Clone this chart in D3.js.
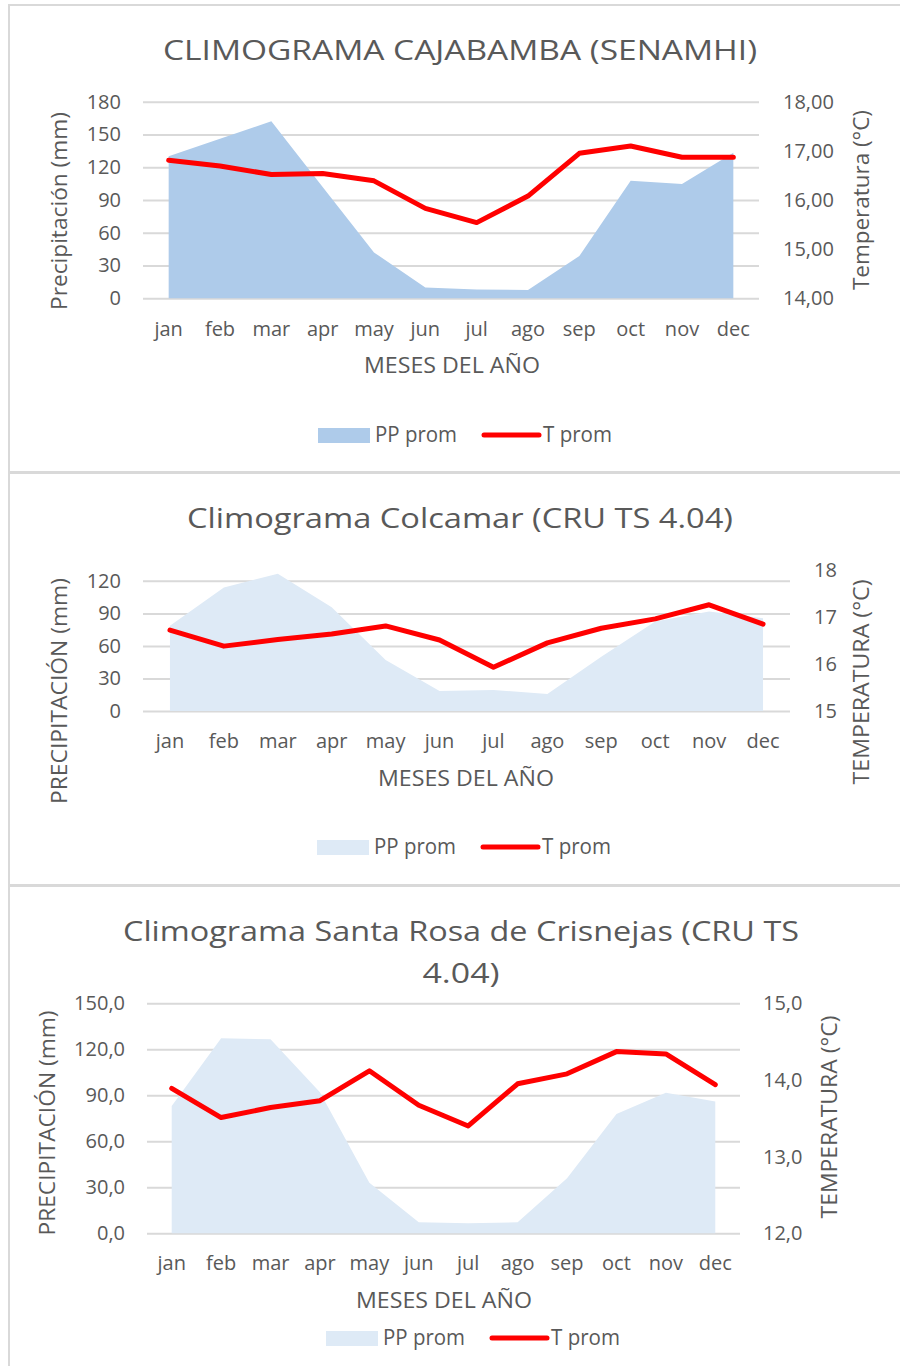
<!DOCTYPE html>
<html>
<head>
<meta charset="utf-8">
<script src="https://cdn.jsdelivr.net/npm/d3@7"></script>
<style>
  body { margin: 0; background: #fff; }
  svg text { font-family: "Open Sans", Lato, sans-serif; fill: #595959; }
</style>
</head>
<body>
<div id="graf"></div>
<script>
// ===== datos =====
const meses = ["jan", "feb", "mar", "apr", "may", "jun", "jul", "ago", "sep", "oct", "nov", "dec"];

// Cajabamba (SENAMHI)
const ppCajabamba = [130, 146, 162, 102, 42, 10, 8, 7.6, 38.7, 107.7, 104.6, 133.3];
const tCajabamba = [16.81, 16.69, 16.52, 16.54, 16.39, 15.83, 15.54, 16.08, 16.95, 17.10, 16.87, 16.87];
const ticksPPCajabamba = [0, 30, 60, 90, 120, 150, 180];
const ticksTCajabamba = [14, 15, 16, 17, 18];

// Colcamar (CRU TS 4.04)
const ppColcamar = [78.5, 113.8, 126.5, 95.7, 47, 18.5, 19.4, 15.7, 50, 82.5, 91.7, 85.5];
const tColcamar = [16.72, 16.38, 16.52, 16.64, 16.81, 16.51, 15.93, 16.45, 16.76, 16.96, 17.26, 16.85];
const ticksPPColcamar = [0, 30, 60, 90, 120];
const ticksTColcamar = [15, 16, 17, 18];

// Santa Rosa de Crisnejas (CRU TS 4.04)
const ppSantaRosa = [83, 127.2, 126.5, 92, 33, 7.2, 6.5, 7.2, 35.9, 77.8, 91.7, 85.9];
const tSantaRosa = [13.89, 13.51, 13.64, 13.73, 14.12, 13.67, 13.40, 13.95, 14.08, 14.37, 14.34, 13.94];
const ticksPPSantaRosa = [0, 30, 60, 90, 120, 150];
const ticksTSantaRosa = [12, 13, 14, 15];

const coma = d3.formatLocale({ decimal: ",", thousands: ".", grouping: [3], currency: ["", ""] });

const svg = d3.select("#graf").append("svg")
  .attr("width", 900)
  .attr("height", 1366);

// marcos de cada gráfico
[[5, 467], [473, 412], [886, 490]].forEach(([y, h]) => {
  svg.append("rect")
    .attr("x", 9).attr("y", y).attr("width", 900).attr("height", h)
    .attr("fill", "none").attr("stroke", "#d9d9d9").attr("stroke-width", 2);
});

// texto estirado al ancho que tiene en la imagen
function texto(g, txt, size, largo) {
  return g.append("text")
    .attr("text-anchor", "middle")
    .style("font-size", size + "px")
    .attr("textLength", largo)
    .attr("lengthAdjust", "spacingAndGlyphs")
    .text(txt);
}

function climograma(o) {
  const g = svg.append("g");

  const x = d3.scaleBand().domain(meses).range([o.x0, o.x1]);
  const cx = (d) => x(d) + x.bandwidth() / 2;
  const yPP = d3.scaleLinear().domain(o.domPP).range([o.yBase, o.yTop]);
  const yT = d3.scaleLinear().domain(o.domT).range([o.yBase, o.yTop]);

  // eje izquierdo (con líneas de cuadrícula)
  const ejeIzq = g.append("g")
    .attr("transform", `translate(${o.x0},0)`)
    .call(d3.axisLeft(yPP).tickValues(o.ticksPP).tickSize(-(o.x1 - o.x0)).tickPadding(22)
      .tickFormat(coma.format(o.fmtPP)));
  ejeIzq.select(".domain").remove();
  ejeIzq.selectAll("line").attr("stroke", "#d9d9d9").attr("stroke-width", 2);
  ejeIzq.selectAll("text").style("font-size", "20px").attr("fill", "#595959");

  // eje derecho
  const ejeDer = g.append("g")
    .attr("transform", `translate(${o.x1},0)`)
    .call(d3.axisRight(yT).tickValues(o.ticksT).tickSize(0).tickPadding(o.padDer)
      .tickFormat(coma.format(o.fmtT)));
  ejeDer.select(".domain").remove();
  ejeDer.selectAll("text").style("font-size", "20px").attr("fill", "#595959");

  // eje x
  const ejeX = g.append("g")
    .attr("transform", `translate(0,${o.yBase})`)
    .call(d3.axisBottom(x).tickSize(0));
  ejeX.select(".domain").remove();
  ejeX.selectAll("text").attr("y", o.xLabY).attr("dy", null)
    .style("font-size", "20px").attr("fill", "#595959");

  // área de precipitación
  g.append("path")
    .datum(o.pp)
    .attr("fill", o.colorPP)
    .attr("d", d3.area()
      .x((d, i) => cx(meses[i]))
      .y0(yPP(0))
      .y1((d) => yPP(d)));

  // línea de temperatura
  g.append("path")
    .datum(o.t)
    .attr("fill", "none")
    .attr("stroke", "#ff0000")
    .attr("stroke-width", 5)
    .attr("stroke-linejoin", "round")
    .attr("stroke-linecap", "round")
    .attr("d", d3.line()
      .x((d, i) => cx(meses[i]))
      .y((d) => yT(d)));

  // título (una o dos líneas)
  o.titulo.forEach((linea, i) => {
    texto(g, linea, 28, o.titLargo[i])
      .attr("x", o.titX)
      .attr("y", o.titY + i * 42);
  });

  // títulos de ejes
  texto(g, o.tituloPP, 21, o.largoIzq)
    .attr("transform", `translate(${o.labIzq[0]},${o.labIzq[1]}) rotate(-90)`)
    .attr("dy", "0.35em");

  texto(g, o.tituloT, 21, o.largoDer)
    .attr("transform", `translate(${o.labDer[0]},${o.labDer[1]}) rotate(-90)`)
    .attr("dy", "0.35em");

  texto(g, "MESES DEL AÑO", 21, 176)
    .attr("x", o.mesesX)
    .attr("y", o.mesesY)
    .attr("dy", "0.35em");

  // leyenda
  const ley = g.append("g").attr("transform", `translate(${o.ley[0]},${o.ley[1]})`);
  ley.append("rect")
    .attr("x", 0).attr("y", -7).attr("width", 52).attr("height", 15)
    .attr("fill", o.colorPP);
  texto(ley, "PP prom", 21, 82).attr("text-anchor", "start").attr("x", 57).attr("dy", "0.35em");
  ley.append("line")
    .attr("x1", 166).attr("x2", 221)
    .attr("stroke", "#ff0000").attr("stroke-width", 5).attr("stroke-linecap", "round");
  texto(ley, "T prom", 21, 69).attr("text-anchor", "start").attr("x", 225).attr("dy", "0.35em");
}

climograma({
  titulo: ["CLIMOGRAMA CAJABAMBA (SENAMHI)"], titLargo: [594], titX: 460, titY: 60,
  pp: ppCajabamba, t: tCajabamba, ticksPP: ticksPPCajabamba, ticksT: ticksTCajabamba,
  domPP: [0, 180], domT: [14, 18], fmtPP: "d", fmtT: ".2f",
  x0: 143, x1: 759, yTop: 101.7, yBase: 298.3, padDer: 24, xLabY: 38,
  colorPP: "#aecbea",
  tituloPP: "Precipitación (mm)", tituloT: "Temperatura (°C)", largoIzq: 198, largoDer: 180,
  labIzq: [60, 211], labDer: [862, 200], mesesX: 452, mesesY: 366,
  ley: [318, 435]
});

climograma({
  titulo: ["Climograma Colcamar (CRU TS 4.04)"], titLargo: [546], titX: 460, titY: 528,
  pp: ppColcamar, t: tColcamar, ticksPP: ticksPPColcamar, ticksT: ticksTColcamar,
  domPP: [0, 130], domT: [15, 18], fmtPP: "d", fmtT: "d",
  x0: 143, x1: 790, yTop: 570, yBase: 711, padDer: 24, xLabY: 37,
  colorPP: "#deeaf6",
  tituloPP: "PRECIPITACIÓN (mm)", tituloT: "TEMPERATURA (°C)", largoIzq: 226, largoDer: 205,
  labIzq: [60, 691], labDer: [862, 682], mesesX: 466, mesesY: 779,
  ley: [317, 847]
});

climograma({
  titulo: ["Climograma Santa Rosa de Crisnejas (CRU TS", "4.04)"], titLargo: [676, 77], titX: 461, titY: 941,
  pp: ppSantaRosa, t: tSantaRosa, ticksPP: ticksPPSantaRosa, ticksT: ticksTSantaRosa,
  domPP: [0, 150], domT: [12, 15], fmtPP: ".1f", fmtT: ".1f",
  x0: 147, x1: 740, yTop: 1003.3, yBase: 1233.3, padDer: 23, xLabY: 37,
  colorPP: "#deeaf6",
  tituloPP: "PRECIPITACIÓN (mm)", tituloT: "TEMPERATURA (°C)", largoIzq: 225, largoDer: 203,
  labIzq: [48, 1123], labDer: [830, 1117], mesesX: 444, mesesY: 1301,
  ley: [326, 1338]
});
</script>
</body>
</html>
